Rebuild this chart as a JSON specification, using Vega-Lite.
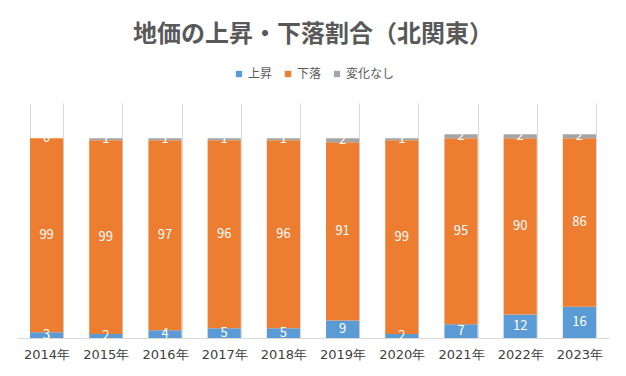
{
  "$schema": "https://vega.github.io/schema/vega-lite/v6.json",
  "width": 592,
  "height": 235,
  "autosize": {"type": "none"},
  "padding": {"left": 17, "top": 103, "right": 17, "bottom": 38},
  "background": "white",
  "title": {
    "text": "地価の上昇・下落割合（北関東）",
    "fontSize": 24,
    "font": "Noto Sans CJK JP",
    "fontWeight": "bold",
    "color": "#595959",
    "anchor": "middle",
    "offset": 21
  },
  "config": {
    "view": {"stroke": null},
    "font": "Noto Sans CJK JP"
  },
  "data": {
    "values": [
      {"year": "2014年", "type": "上昇", "value": 3},
      {"year": "2014年", "type": "下落", "value": 99},
      {"year": "2014年", "type": "変化なし", "value": 0},
      {"year": "2015年", "type": "上昇", "value": 2},
      {"year": "2015年", "type": "下落", "value": 99},
      {"year": "2015年", "type": "変化なし", "value": 1},
      {"year": "2016年", "type": "上昇", "value": 4},
      {"year": "2016年", "type": "下落", "value": 97},
      {"year": "2016年", "type": "変化なし", "value": 1},
      {"year": "2017年", "type": "上昇", "value": 5},
      {"year": "2017年", "type": "下落", "value": 96},
      {"year": "2017年", "type": "変化なし", "value": 1},
      {"year": "2018年", "type": "上昇", "value": 5},
      {"year": "2018年", "type": "下落", "value": 96},
      {"year": "2018年", "type": "変化なし", "value": 1},
      {"year": "2019年", "type": "上昇", "value": 9},
      {"year": "2019年", "type": "下落", "value": 91},
      {"year": "2019年", "type": "変化なし", "value": 2},
      {"year": "2020年", "type": "上昇", "value": 2},
      {"year": "2020年", "type": "下落", "value": 99},
      {"year": "2020年", "type": "変化なし", "value": 1},
      {"year": "2021年", "type": "上昇", "value": 7},
      {"year": "2021年", "type": "下落", "value": 95},
      {"year": "2021年", "type": "変化なし", "value": 2},
      {"year": "2022年", "type": "上昇", "value": 12},
      {"year": "2022年", "type": "下落", "value": 90},
      {"year": "2022年", "type": "変化なし", "value": 2},
      {"year": "2023年", "type": "上昇", "value": 16},
      {"year": "2023年", "type": "下落", "value": 86},
      {"year": "2023年", "type": "変化なし", "value": 2}
    ]
  },
  "encoding": {
    "x": {
      "field": "year",
      "type": "nominal",
      "scale": {"paddingInner": 0.44, "paddingOuter": 0.22},
      "axis": {
        "title": null,
        "labelAngle": 0,
        "grid": true,
        "tickBand": "extent",
        "gridColor": "#d9d9d9",
        "gridWidth": 1,
        "domainColor": "#d9d9d9",
        "ticks": false,
        "labelFontSize": 13,
        "labelColor": "#404040",
        "labelPadding": 10,
        "labelFont": "DejaVu Sans"
      }
    }
  },
  "layer": [
    {
      "mark": {"type": "bar"},
      "encoding": {
        "y": {
          "field": "value",
          "type": "quantitative",
          "stack": "zero",
          "scale": {"domain": [0, 120]},
          "axis": null
        },
        "color": {
          "field": "type",
          "type": "nominal",
          "scale": {
            "domain": ["上昇", "下落", "変化なし"],
            "range": ["#5B9BD5", "#ED7D31", "#A5A5A5"]
          },
          "legend": {
            "orient": "none",
            "legendX": 216,
            "legendY": -35,
            "direction": "horizontal",
            "title": null,
            "symbolType": "square",
            "symbolSize": 40,
            "symbolStrokeWidth": 0,
            "labelFontSize": 12,
            "labelColor": "#595959",
            "columnPadding": 9,
            "labelOffset": 3
          }
        },
        "order": {"field": "type", "sort": "ascending"}
      }
    },
    {
      "mark": {"type": "text", "color": "white", "fontSize": 13, "baseline": "middle"},
      "encoding": {
        "y": {
          "field": "value",
          "type": "quantitative",
          "stack": "zero",
          "bandPosition": 0.5
        },
        "detail": {"field": "type"},
        "order": {"field": "type", "sort": "ascending"},
        "text": {"field": "value", "type": "quantitative"}
      }
    }
  ]
}
